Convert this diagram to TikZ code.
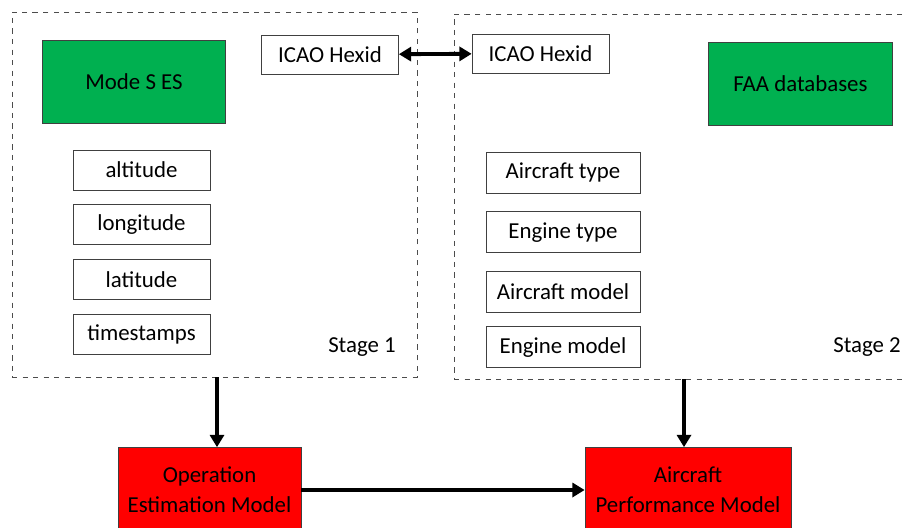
\documentclass[tikz,border=0pt]{standalone}
\usepackage{fontspec}
\setmainfont{Carlito}
\usepackage{xcolor}
\usetikzlibrary{positioning,arrows.meta}
\definecolor{boxgreen}{HTML}{00B050}
\definecolor{boxred}{HTML}{FF0000}

\begin{document}
\begin{tikzpicture}[node distance=0.28cm, font=\fontsize{13}{15}\selectfont]
                \tikzstyle{source} = [rectangle, minimum width=3.67cm, minimum height=1.66cm, text centered, draw=black!75, fill=boxgreen]
                \tikzstyle{field} = [rectangle, minimum width=2.74cm, minimum height=0.8cm, text centered, draw=black!75, fill=white, inner sep=1pt]
                \tikzstyle{model} = [rectangle, minimum height=1.7cm, text centered, align=center, draw=black!75, fill=boxred, font=\fontsize{13}{17}\selectfont]
                \tikzstyle{stagebox} = [rectangle, draw=black!70, dashed, thin]
                \tikzstyle{arrow} = [line width=2.2pt, -{Triangle[length=7pt, width=8pt]}]
                \useasboundingbox (0,0) rectangle (18.08,-10.54);

                % stage frames
                \node (stageA) [stagebox, minimum width=8.1cm, minimum height=7.3cm] at (4.29,-3.89) {};
                \node (stageB) [stagebox, minimum width=9.16cm, minimum height=7.3cm] at (13.66,-3.93) {};

                % stage 1
                \node (modes) [source] at (2.68,-1.63) {Mode S ES};
                \node (icaoL) [field, minimum height=0.78cm] at (6.60,-1.09) {ICAO Hexid};
                \node (alt) [field] at (2.83,-3.40) {altitude};
                \node (lon) [field, below=of alt] {longitude};
                \node (lat) [field, below=of lon] {latitude};
                \node (ts) [field, below=of lat] {timestamps};
                \node (stage1) at (7.24,-6.94) {Stage 1};

                % stage 2
                \node (faa) [source] at (16.01,-1.67) {FAA databases};
                \node (icaoR) [field, minimum height=0.78cm] at (10.81,-1.07) {ICAO Hexid};
                \node (actype) [field, minimum width=3.08cm, minimum height=0.82cm] at (11.26,-3.45) {Aircraft type};
                \node (engtype) [field, minimum width=3.08cm, minimum height=0.82cm, below=0.36cm of actype] {Engine type};
                \node (acmodel) [field, minimum width=3.08cm, minimum height=0.82cm, below=0.36cm of engtype] {Aircraft model};
                \node (engmodel) [field, minimum width=3.08cm, minimum height=0.82cm, below=0.27cm of acmodel] {Engine model};
                \node (stage2) at (17.34,-6.94) {Stage 2};

                % models
                \node (opmodel) [model, minimum width=3.66cm] at (4.19,-9.80) {Operation\\Estimation Model};
                \node (perfmodel) [model, minimum width=4.12cm] at (13.76,-9.80) {Aircraft\\Performance Model};

                \draw [line width=2.2pt, {Triangle[length=7pt, width=8pt]}-{Triangle[length=7pt, width=8pt]}] (icaoL) -- (icaoR);
                \draw [arrow] ([xshift=0.15cm]stageA.south -| opmodel.north) -- ([xshift=0.15cm]opmodel.north);
                \draw [arrow] ([xshift=-0.08cm]stageB.south -| perfmodel.north) -- ([xshift=-0.08cm]perfmodel.north);
                \draw [arrow, line width=2.8pt] (opmodel) -- (perfmodel);
            \end{tikzpicture}
\end{document}
